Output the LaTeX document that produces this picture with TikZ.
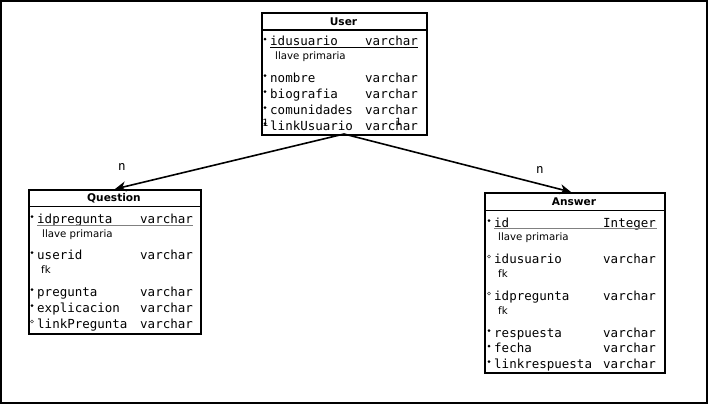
\documentclass[tikz,border=0pt]{standalone}
\usepackage{fontspec}
\usetikzlibrary{arrows.meta}
\newfontfamily\dmono{DejaVu Sans Mono}
\newfontfamily\dsans{DejaVu Sans}
\newcommand{\frow}[7]{%
  \path[#7] (#2,#3-6.5) circle (1.5);
  \node[fieldtxt, anchor=base west] (#1n) at (#2+5,#3) {#4};
  \node[fieldtxt, anchor=base west] (#1t) at (#5,#3) {#6};}
\tikzset{
  fieldtxt/.style={inner sep=0pt, font=\dmono\fontsize{12.5}{14}\selectfont},
  notetxt/.style={inner sep=0pt, font=\dsans\fontsize{10.2}{12}\selectfont},
  titletxt/.style={inner sep=0pt, font=\dsans\bfseries\fontsize{10.6}{12}\selectfont},
  tbox/.style={draw, line width=1.5pt, inner sep=0pt, anchor=north west},
  sepline/.style={line width=1.6pt},
  req/.style={fill=black},
  opt/.style={draw=black!70, line width=0.5pt, fill=white},
  rel/.style={line width=1.6pt, -{Stealth[length=11pt,width=10pt,inset=3.5pt]}},
  mult/.style={inner sep=0pt, font=\dmono\fontsize{12.5}{14}\selectfont},
  smallmult/.style={inner sep=0pt, font=\dmono\fontsize{10}{12}\selectfont},
}
\begin{document}
\begin{tikzpicture}[x=1pt,y=-1pt]
\useasboundingbox (0,0) rectangle (710,405);
\fill[white] (0,0) rectangle (710,405);
\draw[line width=2pt] (1,1) rectangle (707,403);

% User
\node[tbox, minimum width=165pt, minimum height=122pt] (user) at (261,12) {};
\draw[sepline] (261,30) -- (426,30);
\node[titletxt] (usertitle) at (343.5,21.5) {User};
\frow{u1}{265}{45.7}{idusuario}{365}{varchar}{req}
\draw[line width=0.6pt] (270,47.5) -- (418,47.5);
\node[notetxt, anchor=base west] (unote) at (275,59) {llave primaria};
\frow{u2}{265}{82}{nombre}{365}{varchar}{req}
\frow{u3}{265}{98}{biografia}{365}{varchar}{req}
\frow{u4}{265}{114}{comunidades}{365}{varchar}{req}
\frow{u5}{265}{130}{linkUsuario}{365}{varchar}{req}

% Question
\node[tbox, minimum width=172pt, minimum height=144pt] (question) at (28,189) {};
\draw[sepline] (28,206.5) -- (200,206.5);
\node[titletxt] (qtitle) at (114,198) {Question};
\frow{q1}{32}{223}{idpregunta}{140}{varchar}{req}
\draw[line width=1.2pt, gray] (37,225.5) -- (193,225.5);
\node[notetxt, anchor=base west] (qnote) at (42,237) {llave primaria};
\frow{q2}{32}{259}{userid}{140}{varchar}{req}
\node[notetxt, anchor=base west] (qfk) at (41,273) {fk};
\frow{q3}{32}{296}{pregunta}{140}{varchar}{req}
\frow{q4}{32}{312}{explicacion}{140}{varchar}{req}
\frow{q5}{32}{328}{linkPregunta}{140}{varchar}{opt}

% Answer
\node[tbox, minimum width=180pt, minimum height=180pt] (answer) at (484,192) {};
\draw[sepline] (484,210.5) -- (664,210.5);
\node[titletxt] (atitle) at (574,202) {Answer};
\frow{a1}{489}{227}{id}{603}{Integer}{req}
\draw[line width=1.2pt, gray] (494,228.7) -- (657,228.7);
\node[notetxt, anchor=base west] (anote) at (498,240) {llave primaria};
\frow{a2}{489}{263}{idusuario}{603}{varchar}{opt}
\node[notetxt, anchor=base west] (afk1) at (498,277) {fk};
\frow{a3}{489}{300}{idpregunta}{603}{varchar}{opt}
\node[notetxt, anchor=base west] (afk2) at (498,314) {fk};
\frow{a4}{489}{337}{respuesta}{603}{varchar}{req}
\frow{a5}{489}{352.5}{fecha}{603}{varchar}{req}
\frow{a6}{489}{368}{linkrespuesta}{603}{varchar}{req}

% Relations
\coordinate (ubot) at (344,134);
\coordinate (qtop) at (115,189);
\coordinate (atop) at (571,192);
\draw[rel] (ubot) -- (qtop);
\draw[rel] (ubot) -- (atop);
\node[mult] (n1) at (122,167) {n};
\node[mult] (n2) at (540,170) {n};
\node[smallmult] (one1) at (265.5,123) {1};
\node[smallmult] (one2) at (398.5,122) {1};
\end{tikzpicture}
\end{document}
